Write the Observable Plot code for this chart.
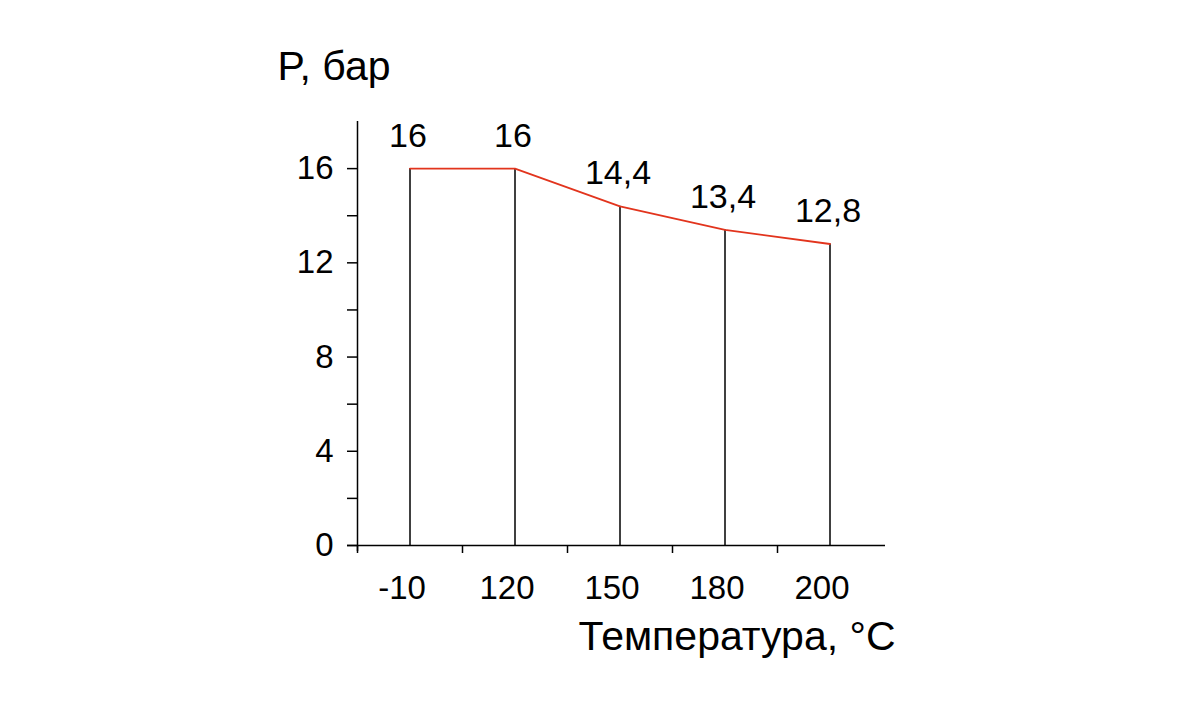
<!DOCTYPE html>
<html>
<head>
<meta charset="utf-8">
<script src="https://cdn.jsdelivr.net/npm/d3@7"></script>
<script src="https://cdn.jsdelivr.net/npm/@observablehq/plot@0.6"></script>
<style>
  html, body { margin: 0; padding: 0; background: #fff; }
  svg { font-family: Arial, "Liberation Sans", sans-serif; }
</style>
</head>
<body>
<div id="chart"></div>
<script>
const temperatures = ["-10", "120", "150", "180", "200"];
const pressures = [16, 16, 14.4, 13.4, 12.8];
const pressureLabels = ["16", "16", "14,4", "13,4", "12,8"];
const yTicks = [0, 2, 4, 6, 8, 10, 12, 14, 16];
const yTitle = "P, бар";
const xTitle = "Температура, °C";

const data = temperatures.map((t, i) => ({
  idx: i + 0.5,
  t,
  p: pressures[i],
  label: pressureLabels[i]
}));
const edges = temperatures.map((t, i) => i);

const font = "Arial, 'Liberation Sans', sans-serif";

const chart = Plot.plot({
  width: 1200,
  height: 727,
  marginTop: 121,
  marginBottom: 182,
  marginLeft: 357,
  marginRight: 318,
  style: { fontFamily: font, color: "#000", background: "#fff" },
  x: { domain: [0, temperatures.length] },
  y: { domain: [0, 18] },
  marks: [
    Plot.axisY({
      ticks: yTicks,
      tickSize: 10,
      tickPadding: 14,
      tickFormat: d => (d % 4 === 0 ? String(d) : ""),
      fontSize: 33,
      strokeWidth: 1.5,
      label: null
    }),
    Plot.axisX({
      ticks: edges,
      tickSize: 8,
      tickFormat: () => "",
      strokeWidth: 1.5,
      label: null
    }),
    Plot.axisX({
      ticks: data.map(d => d.idx),
      tickSize: 0,
      tickPadding: 30,
      tickFormat: d => temperatures[Math.floor(d)],
      fontSize: 33,
      dx: -8,
      label: null
    }),
    Plot.ruleX([0], { stroke: "#000", strokeWidth: 1.5, insetBottom: -6 }),
    Plot.ruleY([0], { stroke: "#000", strokeWidth: 1.5, insetLeft: -10, insetRight: -3 }),
    Plot.ruleX(data, { x: "idx", y1: 0, y2: "p", stroke: "#000", strokeWidth: 1.5 }),
    Plot.line(data, { x: "idx", y: "p", stroke: "#e2341d", strokeWidth: 1.8 }),
    Plot.text(data, {
      x: "idx",
      y: "p",
      text: "label",
      lineAnchor: "middle",
      dx: -2,
      dy: -33,
      fontSize: 34,
      fill: "#000"
    }),
    Plot.text([yTitle], {
      frameAnchor: "top-left",
      text: d => d,
      textAnchor: "start",
      lineAnchor: "middle",
      dx: -80,
      dy: -55,
      fontSize: 41,
      fill: "#000"
    }),
    Plot.text([xTitle], {
      frameAnchor: "bottom-right",
      text: d => d,
      textAnchor: "end",
      lineAnchor: "middle",
      dx: 13,
      dy: 91,
      fontSize: 41,
      fill: "#000"
    })
  ]
});

document.getElementById("chart").appendChild(chart);
</script>
</body>
</html>
